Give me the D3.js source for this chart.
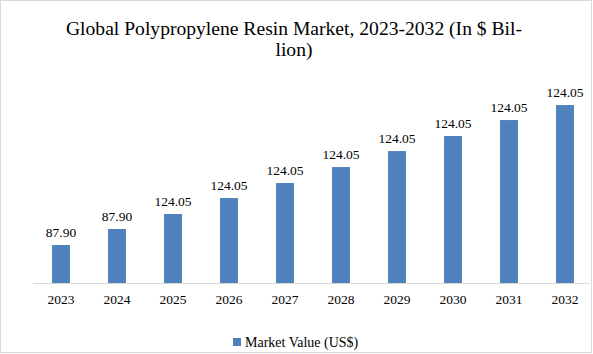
<!DOCTYPE html>
<html>
<head>
<meta charset="utf-8">
<script src="https://cdn.jsdelivr.net/npm/d3@7"></script>
<style>
  html, body { margin: 0; padding: 0; background: #fff; }
  svg { display: block; }
</style>
</head>
<body>
<svg id="chart" width="593" height="354"></svg>
<script>
const years = ["2023","2024","2025","2026","2027","2028","2029","2030","2031","2032"];
// bar heights as drawn
const marketValues = [87.9, 125.0, 159.7, 196.7, 231.4, 268.4, 305.4, 340.2, 377.2, 411.9];
// data labels as printed on the chart
const valueLabels = ["87.90","87.90","124.05","124.05","124.05","124.05","124.05","124.05","124.05","124.05"];
const titleLines = ["Global Polypropylene Resin Market, 2023-2032 (In $ Bil-", "lion)"];
const seriesName = "Market Value (US$)";

const W = 593, H = 354;
const serif = "'Liberation Serif', 'DejaVu Serif', serif";
const barColor = "#4f81bd";
const svg = d3.select("#chart");

svg.append("rect").attr("x",0.5).attr("y",0.5).attr("width",W-2).attr("height",H-2)
  .attr("fill","#fff").attr("stroke","#d9d9d9");

const x = d3.scaleBand().domain(years).range([33, 593]).paddingInner(0.68).paddingOuter(0.34);
const y = d3.scaleLinear().domain([0, 450]).range([283, 283 - 0.432*450]);

svg.append("g").selectAll("text").data(titleLines).join("text")
  .attr("x", 294).attr("y", (d,i) => 35 + i*20.5)
  .attr("text-anchor","middle").attr("font-family", serif).attr("font-size", 19.6)
  .attr("fill","#000").text(d => d);

svg.append("g").selectAll("rect").data(marketValues).join("rect")
  .attr("x", (d,i) => x(years[i]))
  .attr("width", x.bandwidth())
  .attr("y", d => y(d))
  .attr("height", d => y(0) - y(d))
  .attr("fill", barColor);

svg.append("g").selectAll("text").data(marketValues).join("text")
  .attr("x", (d,i) => x(years[i]) + x.bandwidth()/2)
  .attr("y", d => y(d) - 8)
  .attr("text-anchor","middle").attr("font-family", serif).attr("font-size", 13.5)
  .attr("fill","#000").text((d,i) => valueLabels[i]);

const xAxis = svg.append("g").attr("transform", `translate(0,${y(0)})`)
  .call(d3.axisBottom(x).tickSize(0).tickPadding(11));
xAxis.select(".domain").attr("stroke","#d9d9d9").attr("d", "M33,0.5H590");
xAxis.selectAll("text").attr("font-family", serif).attr("font-size", 13.5).attr("fill","#000");

const leg = svg.append("g");
leg.append("rect").attr("x",233).attr("y",338).attr("width",8).attr("height",8).attr("fill",barColor);
leg.append("text").attr("x",245).attr("y",346.5).attr("font-family", serif).attr("font-size", 14)
  .attr("fill","#000").text(seriesName);
</script>
</body>
</html>
